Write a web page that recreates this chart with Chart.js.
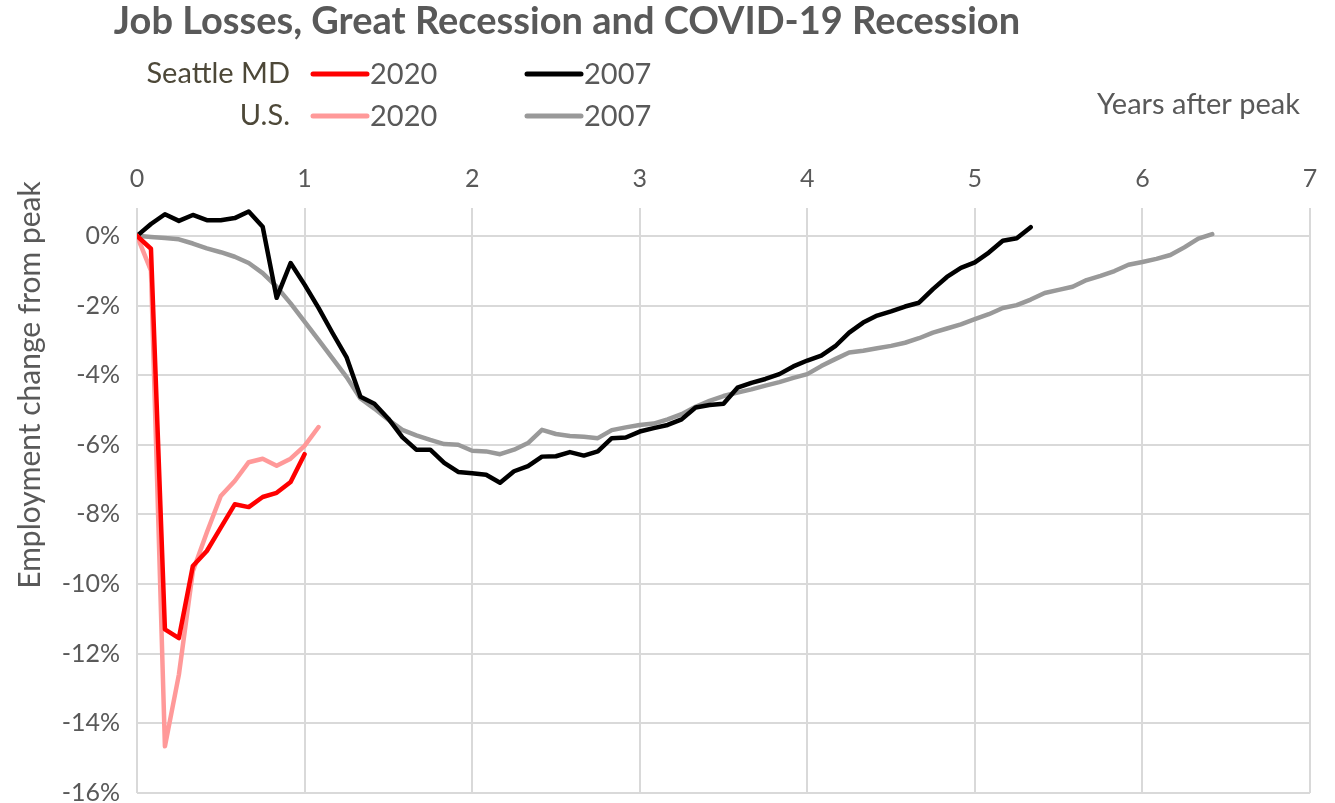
<!DOCTYPE html>
<html>
<head>
<meta charset="utf-8">
<title>Job Losses, Great Recession and COVID-19 Recession</title>
<script src="https://cdn.jsdelivr.net/npm/chart.js@4/dist/chart.umd.min.js"></script>
<style>
  html, body { margin: 0; padding: 0; background: #fff; }
  #wrap { width: 1335px; height: 803px; }
</style>
</head>
<body>
<div id="wrap"><canvas id="jobsChart" width="1335" height="803"></canvas></div>
<script>
// monthly values, % change from peak (index = months after peak)
const seattle2020 = [0, -0.37, -11.3, -11.55, -9.48, -9.05, -8.38, -7.71, -7.79, -7.5, -7.38, -7.07, -6.27];
const us2020 = [0, -1.0, -14.66, -12.6, -9.63, -8.52, -7.47, -7.04, -6.5, -6.4, -6.6, -6.4, -6.03, -5.49];
const seattle2007 = [
    0, 0.34, 0.62, 0.43, 0.60, 0.45, 0.45, 0.51, 0.70, 0.26,
    -1.78, -0.78, -1.40, -2.07, -2.79, -3.48, -4.62, -4.82, -5.25, -5.78,
    -6.14, -6.14, -6.52, -6.78, -6.82, -6.86, -7.09, -6.76, -6.61, -6.34,
    -6.33, -6.21, -6.31, -6.19, -5.81, -5.79, -5.62, -5.52, -5.43, -5.27,
    -4.93, -4.86, -4.82, -4.36, -4.22, -4.11, -3.97, -3.75, -3.58, -3.44,
    -3.17, -2.78, -2.49, -2.29, -2.17, -2.03, -1.92, -1.53, -1.18, -0.92,
    -0.76, -0.48, -0.14, -0.07, 0.25
];
const us2007 = [
    0, -0.03, -0.06, -0.10, -0.22, -0.36, -0.47, -0.60, -0.78, -1.07,
    -1.46, -1.94, -2.46, -2.99, -3.52, -4.05, -4.67, -4.96, -5.28, -5.57,
    -5.73, -5.86, -5.98, -6.00, -6.17, -6.19, -6.27, -6.14, -5.95, -5.57,
    -5.69, -5.75, -5.77, -5.81, -5.58, -5.50, -5.43, -5.39, -5.27, -5.12,
    -4.91, -4.74, -4.60, -4.50, -4.41, -4.30, -4.20, -4.08, -3.97, -3.74,
    -3.54, -3.35, -3.30, -3.23, -3.16, -3.07, -2.94, -2.78, -2.66, -2.54,
    -2.39, -2.25, -2.07, -1.99, -1.83, -1.64, -1.55, -1.46, -1.27, -1.15,
    -1.01, -0.83, -0.75, -0.66, -0.55, -0.33, -0.08, 0.05
];
const yearTicks = [0, 1, 2, 3, 4, 5, 6, 7];
const pctTicks = [0, -2, -4, -6, -8, -10, -12, -14, -16];

const grisText = '#595959';

function enAnys(valors) {
    return valors.map((v, m) => ({ x: m / 12, y: v }));
}

// title, two-row legend and axis titles, Excel style
const extres = {
    id: 'extres',
    afterDraw(chart) {
        const ctx = chart.ctx;
        const ds = chart.data.datasets;
        ctx.save();
        ctx.textBaseline = 'middle';

        ctx.fillStyle = grisText;
        ctx.font = 'bold 38px Lato';
        ctx.textAlign = 'center';
        ctx.fillText('Job Losses, Great Recession and COVID-19 Recession', 567, 22);

        ctx.font = '29px Lato';
        const files = [
            { nom: 'Seattle MD', y: 74, items: [ds[0], ds[2]] },
            { nom: 'U.S.', y: 116, items: [ds[1], ds[3]] }
        ];
        files.forEach(f => {
            ctx.fillStyle = '#4d4838';
            ctx.textAlign = 'right';
            ctx.fillText(f.nom, 290, f.y);
            [313, 527].forEach((x0, k) => {
                ctx.strokeStyle = f.items[k].borderColor;
                ctx.lineWidth = 5;
                ctx.lineCap = 'round';
                ctx.beginPath();
                ctx.moveTo(x0, f.y);
                ctx.lineTo(x0 + 54, f.y);
                ctx.stroke();
                ctx.fillStyle = grisText;
                ctx.textAlign = 'left';
                ctx.fillText(f.items[k].any, x0 + 57, f.y + 1);
            });
        });

        ctx.fillStyle = grisText;
        ctx.font = '29px Lato';
        ctx.textAlign = 'right';
        ctx.fillText('Years after peak', 1300, 105);

        ctx.translate(30, 385);
        ctx.rotate(-Math.PI / 2);
        ctx.textAlign = 'center';
        ctx.font = '30px Lato';
        ctx.fillText('Employment change from peak', 0, 0);
        ctx.restore();
    }
};

function dibuixar() {
    const ctx = document.getElementById('jobsChart').getContext('2d');
    new Chart(ctx, {
        type: 'line',
        data: {
            datasets: [
                { label: 'Seattle MD 2020', any: '2020', data: enAnys(seattle2020), borderColor: '#ff0000' },
                { label: 'U.S. 2020', any: '2020', data: enAnys(us2020), borderColor: '#ff9999' },
                { label: 'Seattle MD 2007', any: '2007', data: enAnys(seattle2007), borderColor: '#000000' },
                { label: 'U.S. 2007', any: '2007', data: enAnys(us2007), borderColor: '#999999' }
            ]
        },
        options: {
            responsive: false,
            animation: false,
            devicePixelRatio: 1,
            layout: { padding: { top: 40, right: 25, bottom: 0, left: 0 } },
            elements: {
                line: { borderWidth: 4.5, tension: 0, borderJoinStyle: 'round', borderCapStyle: 'round', fill: false },
                point: { radius: 0, hoverRadius: 0 }
            },
            plugins: { legend: { display: false }, tooltip: { enabled: false } },
            scales: {
                x: {
                    type: 'linear', position: 'top', min: 0, max: 7,
                    afterBuildTicks: s => { s.ticks = yearTicks.map(v => ({ value: v })); },
                    afterFit: s => { s.height = 168; },
                    ticks: { padding: 17, color: grisText, font: { family: 'Lato', size: 25, lineHeight: 1 } },
                    grid: { color: '#d9d9d9', lineWidth: 2, drawTicks: false },
                    border: { display: false }
                },
                y: {
                    min: -16, max: 0.8,
                    afterBuildTicks: s => { s.ticks = pctTicks.map(v => ({ value: v })); },
                    afterFit: s => { s.width = 137; s.paddingTop = 0; s.paddingBottom = 10; },
                    ticks: { padding: 17, color: grisText, font: { family: 'Lato', size: 25, lineHeight: 0.9 }, callback: v => v + '%' },
                    grid: { color: '#d9d9d9', lineWidth: 2, drawTicks: false },
                    border: { display: false }
                }
            }
        },
        plugins: [extres]
    });
}

document.fonts.load('25px Lato').then(dibuixar, dibuixar);
</script>
</body>
</html>
